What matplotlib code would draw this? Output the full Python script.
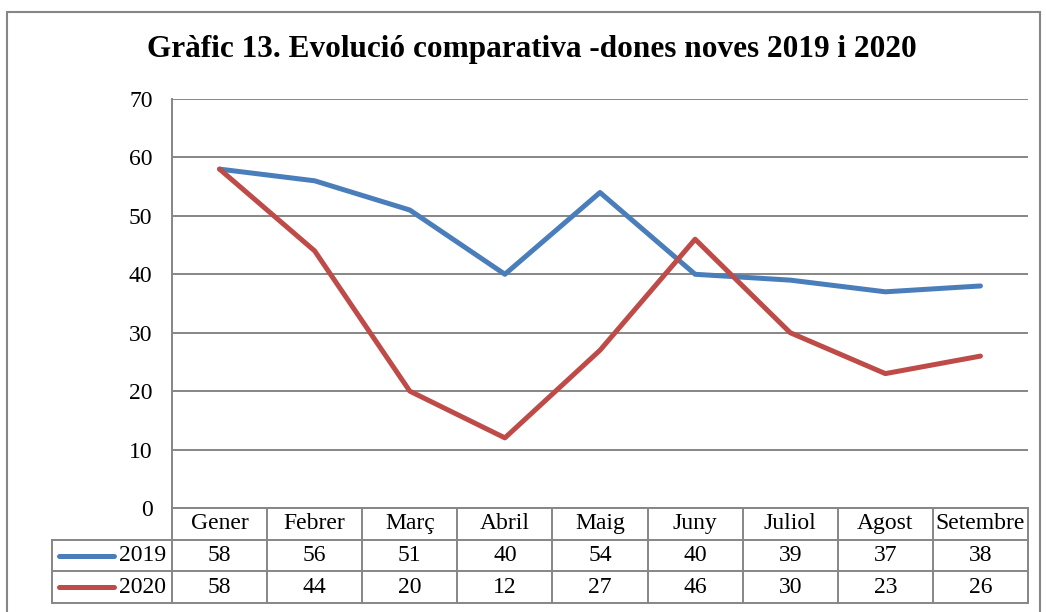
import numpy as np
import matplotlib.pyplot as plt
from matplotlib.patches import Rectangle

months = ["Gener", "Febrer", "Març", "Abril", "Maig", "Juny", "Juliol", "Agost", "Setembre"]
v2019 = [58, 56, 51, 40, 54, 40, 39, 37, 38]
v2020 = [58, 44, 20, 12, 27, 46, 30, 23, 26]
series_names = ["2019", "2020"]
colors = ["#4A7EBB", "#BE4B48"]
title = "Gràfic 13. Evolució comparativa -dones noves 2019 i 2020"

W, H = 1046, 612
plt.rcParams['font.family'] = ['Liberation Serif', 'DejaVu Serif']
fig = plt.figure(figsize=(W / 100, H / 100), dpi=100)

def px_rect(x0, y0, x1, y1):
    return [x0 / W, 1 - y1 / H, (x1 - x0) / W, (y1 - y0) / H]

grid_c = "#868686"
fs = 17

# outer frame
fig.patches.append(Rectangle((7 / W, -0.1), (1040 - 7) / W, 1 - 12 / H + 0.1,
                             transform=fig.transFigure, fill=False,
                             edgecolor=grid_c, linewidth=1.5))

fig.text(532 / W, 1 - 49 / H, title, ha="center", va="center",
         fontsize=22.5, fontweight="bold")

ax = fig.add_axes(px_rect(172, 99, 1028, 508))
x = np.arange(len(months))
for vals, c in zip([v2019, v2020], colors):
    ax.plot(x, vals, color=c, linewidth=3.6, solid_capstyle="round", solid_joinstyle="round")
ax.set_xlim(-0.5, len(months) - 0.5)
ax.set_ylim(0, 70)
ax.set_yticks(range(0, 71, 10))
ax.set_xticks([])
ax.grid(axis="y", color=grid_c, linewidth=1.4)
ax.set_axisbelow(True)
for s in ["top", "right", "bottom"]:
    ax.spines[s].set_visible(False)
ax.spines["left"].set_color(grid_c)
ax.spines["left"].set_linewidth(1.4)
ax.tick_params(axis="y", length=0, pad=14, labelsize=fs)

# data table below the plot
tx = fig.add_axes(px_rect(172, 508, 1028, 603))
tx.set_xlim(-0.5, len(months) - 0.5)
tx.set_ylim(3, 0)
tx.axis("off")
leg_left = -0.5 - 120 / 95.1
lw = 1.4
tx.plot([-0.5, len(months) - 0.5], [0, 0], color=grid_c, lw=lw, clip_on=False)
for yy in [1, 2, 3]:
    tx.plot([leg_left, len(months) - 0.5], [yy, yy], color=grid_c, lw=lw, clip_on=False)
for i in range(len(months) + 1):
    tx.plot([i - 0.5, i - 0.5], [0, 3], color=grid_c, lw=lw, clip_on=False)
tx.plot([leg_left, leg_left], [1, 3], color=grid_c, lw=lw, clip_on=False)

for i, m in enumerate(months):
    tx.text(i, 0.5, m, ha="center", va="center", fontsize=fs)
for r, (vals, c, name) in enumerate(zip([v2019, v2020], colors, series_names)):
    yy = r + 1.5
    for i, v in enumerate(vals):
        tx.text(i, yy, str(v), ha="center", va="center", fontsize=fs)
    tx.plot([leg_left + 0.07, leg_left + 0.65], [yy, yy], color=c, lw=3.6,
            solid_capstyle="round", clip_on=False)
    tx.text(-0.56, yy, name, ha="right", va="center", fontsize=fs)

fig.savefig("out.png", dpi=100)
